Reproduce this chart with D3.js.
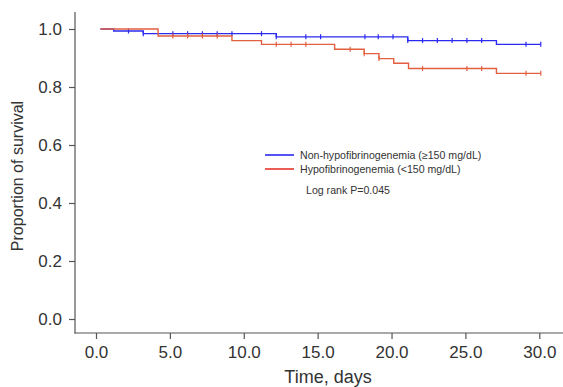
<!DOCTYPE html>
<html><head><meta charset="utf-8">
<script src="https://cdn.jsdelivr.net/npm/d3@7"></script>
<style>body{margin:0;background:#fff;}svg{display:block;font-family:"Liberation Sans",Arial,sans-serif;}</style>
</head><body>
<script>
// Data
const xTicks = [0, 5, 10, 15, 20, 25, 30];
const yTicks = [0, 0.2, 0.4, 0.6, 0.8, 1.0];
const seriesNames = ["Non-hypofibrinogenemia (≥150 mg/dL)", "Hypofibrinogenemia (<150 mg/dL)"];
const blueTimes = [0.3, 1.2, 3.2, 12.2, 21.1, 27.1];
const blueSurv  = [1.0, 0.993, 0.984, 0.973, 0.960, 0.947];
const blueEnd = 30.1;
const blueCensor = [2.2, 3.2, 5.2, 6.2, 7.2, 8.2, 9.2, 11.2, 12.2, 14.2, 15.2, 18.2, 19.1, 20.1, 21.1, 22.1, 23.1, 24.1, 25.1, 26.1, 29.1, 30.1];
const redTimes = [0.3, 4.2, 9.2, 11.2, 16.15, 18.15, 19.15, 20.15, 21.15, 27.1];
const redSurv  = [1.0, 0.976, 0.960, 0.947, 0.930, 0.915, 0.898, 0.882, 0.864, 0.847];
const redEnd = 30.1;
const redCensor = [5.2, 6.2, 7.2, 8.2, 12.2, 13.2, 14.2, 17.2, 18.15, 19.15, 22.1, 25.1, 26.1, 29.1, 30.1];
const pText = "Log rank P=0.045";

const W = 563, H = 387;
const svg = d3.select("body").append("svg").attr("width", W).attr("height", H);
const x = d3.scaleLinear().domain([0, 30]).range([96, 539.3]);
const y = d3.scaleLinear().domain([0, 1]).range([319, 29]);
const axisColor = "#555";
const textColor = "#333";

// axes
const yAxis = svg.append("g").attr("transform", "translate(75,0)")
  .call(d3.axisLeft(y).tickValues(yTicks).tickFormat(d3.format(".1f")).tickSize(6).tickSizeOuter(0));
yAxis.select(".domain").remove();
svg.append("line").attr("x1", 75).attr("x2", 75).attr("y1", 12).attr("y2", 333.5).attr("stroke", axisColor).attr("stroke-width", 1.2);
const xAxis = svg.append("g").attr("transform", "translate(0,333)")
  .call(d3.axisBottom(x).tickValues(xTicks).tickFormat(d3.format(".1f")).tickSize(6).tickSizeOuter(0));
xAxis.select(".domain").remove();
svg.append("line").attr("x1", 74.5).attr("x2", W).attr("y1", 333).attr("y2", 333).attr("stroke", axisColor).attr("stroke-width", 1.2);
[yAxis, xAxis].forEach(g => {
  g.selectAll(".tick line").attr("stroke", axisColor).attr("stroke-width", 1.2);
  g.selectAll(".tick text").attr("fill", textColor).attr("font-size", 17).attr("font-family", "Liberation Sans, Arial, sans-serif");
});
yAxis.selectAll(".tick text").attr("x", -13).attr("dy", "0.35em");
xAxis.selectAll(".tick text").attr("y", 10).attr("dy", "0.9em");

svg.append("text").attr("transform", "translate(23,176) rotate(-90)").attr("text-anchor", "middle")
  .attr("font-size", 16).attr("fill", textColor).text("Proportion of survival");
svg.append("text").attr("x", 328).attr("y", 383).attr("text-anchor", "middle")
  .attr("font-size", 18).attr("fill", textColor).text("Time, days");

function drawCurve(times, surv, end, censor, color) {
  const pts = times.map((t, i) => [t, surv[i]]);
  pts.push([end, surv[surv.length - 1]]);
  const line = d3.line().x(d => x(d[0])).y(d => y(d[1])).curve(d3.curveStepAfter);
  svg.append("path").attr("d", line(pts)).attr("fill", "none").attr("stroke", color).attr("stroke-width", 1.4);
  const survAt = t => { let s = surv[0]; times.forEach((tt, i) => { if (tt <= t) s = surv[i]; }); return s; };
  svg.append("g").selectAll("line").data(censor).join("line")
    .attr("x1", d => x(d)).attr("x2", d => x(d))
    .attr("y1", d => y(survAt(d)) - 2.5).attr("y2", d => y(survAt(d)) + 2.5)
    .attr("stroke", color).attr("stroke-width", 1.2);
}
const blue = "#2a2af0", red = "#e2603f";
drawCurve(blueTimes, blueSurv, blueEnd, blueCensor, blue);
drawCurve(redTimes, redSurv, redEnd, redCensor, red);

// legend
const legColors = [blue, "#e8352a"];
seriesNames.forEach((n, i) => {
  const ly = 155 + i * 14;
  svg.append("line").attr("x1", 265).attr("x2", 294).attr("y1", ly).attr("y2", ly).attr("stroke", legColors[i]).attr("stroke-width", 1.6);
  svg.append("text").attr("x", 300).attr("y", ly + 3.8).attr("font-size", 10.6).attr("fill", textColor).text(n);
});
svg.append("text").attr("x", 306).attr("y", 194).attr("font-size", 10.6).attr("fill", textColor).text(pText);
</script>
</body></html>
